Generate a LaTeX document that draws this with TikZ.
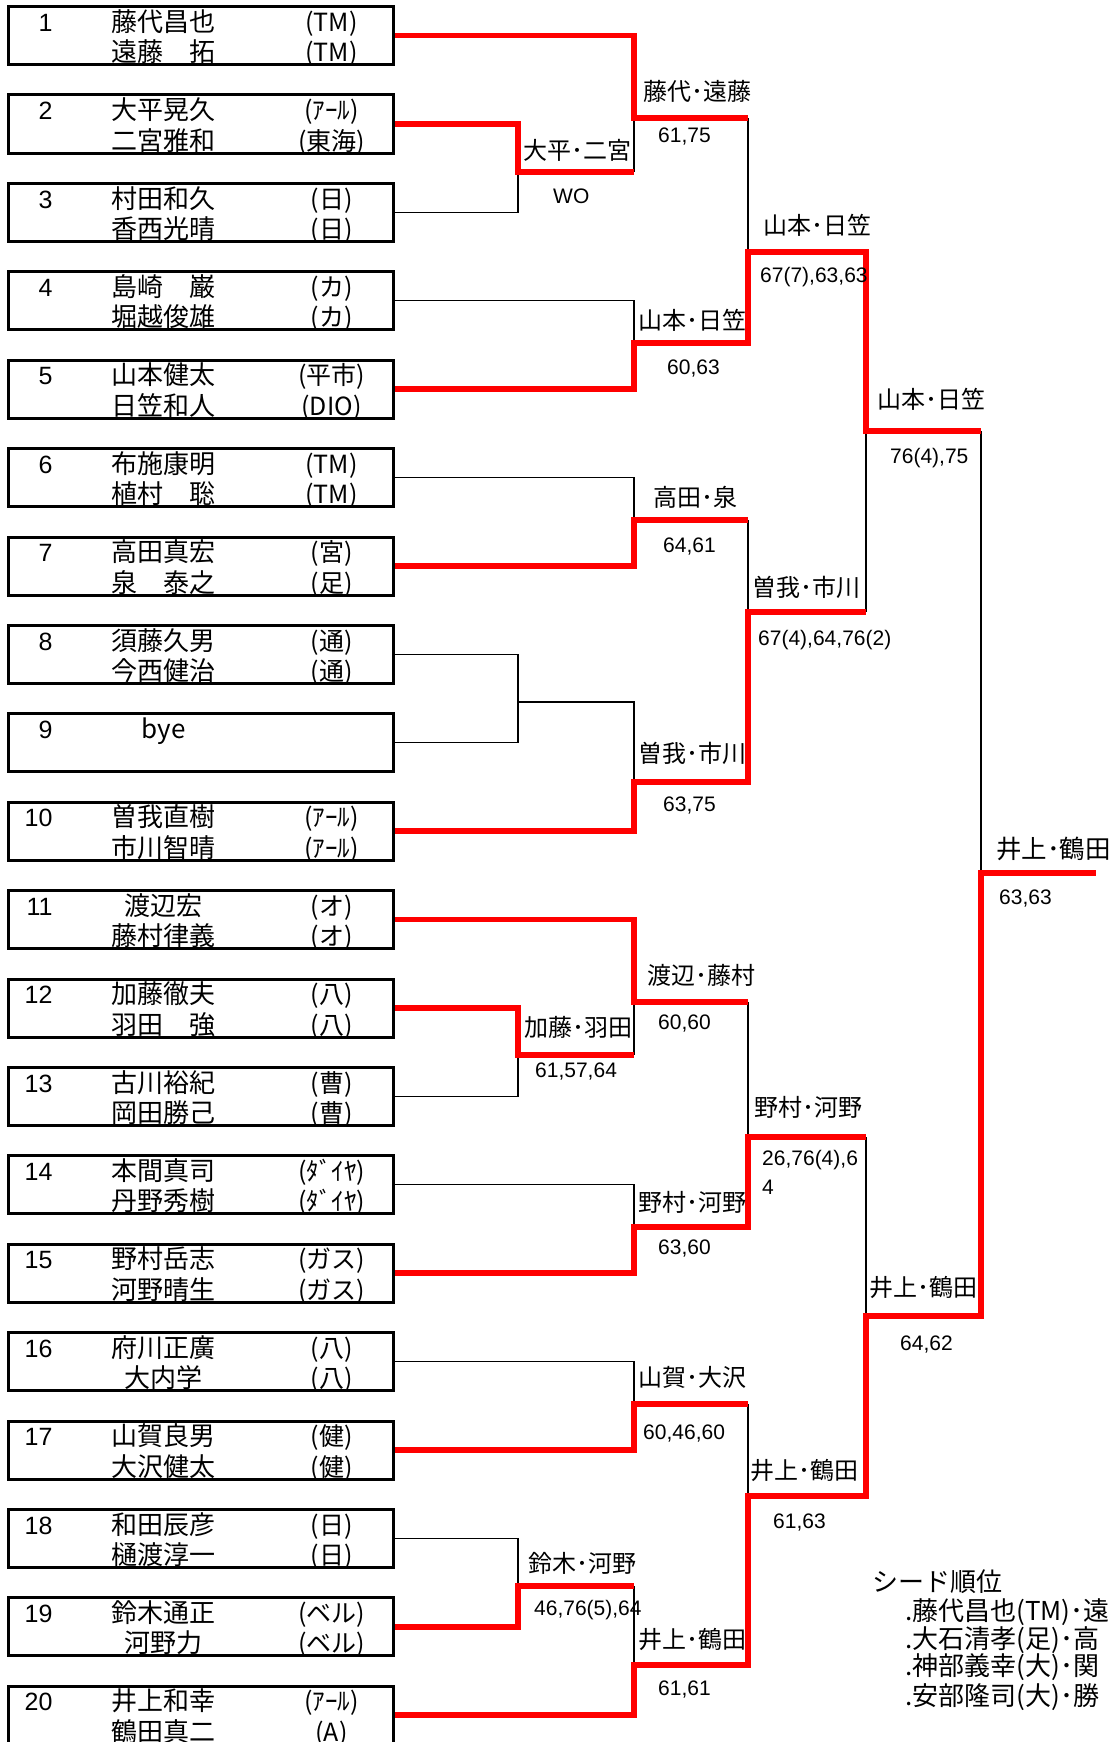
\documentclass[tikz,border=0pt]{standalone}
\usepackage{fontspec}
\usepackage{array}
\setmainfont{Liberation Sans}
\newfontfamily\jp{Noto Sans CJK JP}

% number, two names, two teams of one pair
\newcommand{\entry}[5]{%
  \begin{tabular}[t]{@{}>{\raggedleft\arraybackslash}p{39pt}@{}>{\centering\arraybackslash}p{222pt}@{}>{\centering\arraybackslash}p{114pt}@{}}
    {\fontsize{25}{29}\selectfont #1} & {\jp #2} & {\jp\fontsize{25}{29}\selectfont #4}\\
    & {\jp #3} & {\jp\fontsize{25}{29}\selectfont #5}
  \end{tabular}}

\begin{document}
\begin{tikzpicture}
[x=1pt,y=-1pt,
 entry/.style={draw,line width=3pt,minimum width=385pt,minimum height=58pt,
   inner sep=0pt,text height=24.6pt,text depth=33.4pt,font=\fontsize{26}{29}\selectfont},
 pairname/.style={anchor=west,inner sep=0pt,font=\jp\fontsize{24}{29}\selectfont},
 seedline/.style={anchor=west,inner sep=0pt,font=\jp\fontsize{26}{29}\selectfont},
 score/.style={anchor=west,inner sep=0pt,font=\fontsize{21}{29}\selectfont},
 won/.style={draw=red,line width=5.5pt},
 lost/.style={draw=black,line width=1.2pt}]
   \useasboundingbox (0,0) rectangle (1113,1742);

   % the pairs
   \node[entry] (p_1)  at (201,35.6)   {\entry{1}{藤代昌也}{遠藤　拓}{(TM)}{(TM)}};
   \node[entry] (p_2)  at (201,124.0)  {\entry{2}{大平晃久}{二宮雅和}{(ｱｰﾙ)}{(東海)}};
   \node[entry] (p_3)  at (201,212.4)  {\entry{3}{村田和久}{香西光晴}{(日)}{(日)}};
   \node[entry] (p_4)  at (201,300.8)  {\entry{4}{島崎　巌}{堀越俊雄}{(カ)}{(カ)}};
   \node[entry] (p_5)  at (201,389.2)  {\entry{5}{山本健太}{日笠和人}{(平市)}{(DIO)}};
   \node[entry] (p_6)  at (201,477.6)  {\entry{6}{布施康明}{植村　聡}{(TM)}{(TM)}};
   \node[entry] (p_7)  at (201,566.0)  {\entry{7}{高田真宏}{泉　泰之}{(宮)}{(足)}};
   \node[entry] (p_8)  at (201,654.4)  {\entry{8}{須藤久男}{今西健治}{(通)}{(通)}};
   \node[entry] (p_9)  at (201,742.8)  {\entry{9}{bye}{}{}{}};
   \node[entry] (p_10) at (201,831.2)  {\entry{10}{曽我直樹}{市川智晴}{(ｱｰﾙ)}{(ｱｰﾙ)}};
   \node[entry] (p_11) at (201,919.6)  {\entry{11}{渡辺宏}{藤村律義}{(オ)}{(オ)}};
   \node[entry] (p_12) at (201,1008.0) {\entry{12}{加藤徹夫}{羽田　強}{(八)}{(八)}};
   \node[entry] (p_13) at (201,1096.4) {\entry{13}{古川裕紀}{岡田勝己}{(曹)}{(曹)}};
   \node[entry] (p_14) at (201,1184.8) {\entry{14}{本間真司}{丹野秀樹}{(ﾀﾞｲﾔ)}{(ﾀﾞｲﾔ)}};
   \node[entry] (p_15) at (201,1273.2) {\entry{15}{野村岳志}{河野晴生}{(ガス)}{(ガス)}};
   \node[entry] (p_16) at (201,1361.6) {\entry{16}{府川正廣}{大内学}{(八)}{(八)}};
   \node[entry] (p_17) at (201,1450.0) {\entry{17}{山賀良男}{大沢健太}{(健)}{(健)}};
   \node[entry] (p_18) at (201,1538.4) {\entry{18}{和田辰彦}{樋渡淳一}{(日)}{(日)}};
   \node[entry] (p_19) at (201,1626.8) {\entry{19}{鈴木通正}{河野力}{(ベル)}{(ベル)}};
   \node[entry] (p_20) at (201,1715.2) {\entry{20}{井上和幸}{鶴田真二}{(ｱｰﾙ)}{(A)}};

   % match points, one column per round
   \coordinate (r1_1) at (518,172);
   \coordinate (r1_2) at (518,702);
   \coordinate (r1_3) at (518,1055);
   \coordinate (r1_4) at (518,1586);
   \coordinate (r2_1) at (634,118);
   \coordinate (r2_2) at (634,343);
   \coordinate (r2_3) at (634,520);
   \coordinate (r2_4) at (634,782);
   \coordinate (r2_5) at (634,1002);
   \coordinate (r2_6) at (634,1227);
   \coordinate (r2_7) at (634,1404);
   \coordinate (r2_8) at (634,1665);
   \coordinate (r3_1) at (748,252);
   \coordinate (r3_2) at (748,612);
   \coordinate (r3_3) at (748,1137);
   \coordinate (r3_4) at (748,1496);
   \coordinate (r4_1) at (866,431);
   \coordinate (r4_2) at (866,1316);
   \coordinate (r5_1) at (981,873);
   \coordinate (c_0)  at (1096,873);

   % losing sides
   \path[lost]
    (p_3.east) -| (r1_1)
    (p_8.east) -| (r1_2)
    (p_9.east) -| (r1_2)
    (p_13.east) -| (r1_3)
    (p_18.east) -| (r1_4)
    (p_4.east) -| (r2_2)
    (p_6.east) -| (r2_3)
    (p_14.east) -| (r2_6)
    (p_16.east) -| (r2_7)
    (r1_2) -| (r2_4)
    (r1_1 -| r2_1) -- (r2_1)
    (r1_3 -| r2_5) -- (r2_5)
    (r1_4 -| r2_8) -- (r2_8)
    (r2_1 -| r3_1) -- (r3_1)
    (r2_3 -| r3_2) -- (r3_2)
    (r2_5 -| r3_3) -- (r3_3)
    (r2_7 -| r3_4) -- (r3_4)
    (r3_2 -| r4_1) -- (r4_1)
    (r3_3 -| r4_2) -- (r4_2)
    (r4_1 -| r5_1) -- (r5_1);

   % winning sides
   \draw[won] (p_1.east) -| (r2_1) -- (r2_1 -| r3_1);
   \draw[won] (p_2.east) -| (r1_1) -- (r1_1 -| r2_1);
   \draw[won] (p_5.east) -| (r2_2) -| (r3_1) -| (r4_1) -- (r4_1 -| r5_1);
   \draw[won] (p_7.east) -| (r2_3) -- (r2_3 -| r3_2);
   \draw[won] (p_10.east) -| (r2_4) -| (r3_2) -- (r3_2 -| r4_1);
   \draw[won] (p_11.east) -| (r2_5) -- (r2_5 -| r3_3);
   \draw[won] (p_12.east) -| (r1_3) -- (r1_3 -| r2_5);
   \draw[won] (p_15.east) -| (r2_6) -| (r3_3) -- (r3_3 -| r4_2);
   \draw[won] (p_17.east) -| (r2_7) -- (r2_7 -| r3_4);
   \draw[won] (p_19.east) -| (r1_4) -- (r1_4 -| r2_8);
   \draw[won] (p_20.east) -| (r2_8) -| (r3_4) -| (r4_2) -| (r5_1) -- (c_0);

   % winners and scores
   \node[pairname] (w1_1) at (523,150)  {大平･二宮};
   \node[score]    (s1_1) at (553,196)  {WO};
   \node[pairname] (w1_3) at (524,1027) {加藤･羽田};
   \node[score]    (s1_3) at (535,1071) {61,57,64};
   \node[pairname] (w1_4) at (528,1563) {鈴木･河野};
   \node[score]    (s1_4) at (534,1610) {46,76(5),64};
   \node[pairname] (w2_1) at (643,91)   {藤代･遠藤};
   \node[score]    (s2_1) at (658,137)  {61,75};
   \node[pairname] (w2_2) at (638,320)  {山本･日笠};
   \node[score]    (s2_2) at (667,369)  {60,63};
   \node[pairname] (w2_3) at (653,497)  {高田･泉};
   \node[score]    (s2_3) at (663,547)  {64,61};
   \node[pairname] (w2_4) at (638,753)  {曽我･市川};
   \node[score]    (s2_4) at (663,806)  {63,75};
   \node[pairname] (w2_5) at (647,975)  {渡辺･藤村};
   \node[score]    (s2_5) at (658,1023) {60,60};
   \node[pairname] (w2_6) at (638,1202) {野村･河野};
   \node[score]    (s2_6) at (658,1248) {63,60};
   \node[pairname] (w2_7) at (638,1377) {山賀･大沢};
   \node[score]    (s2_7) at (643,1433) {60,46,60};
   \node[pairname] (w2_8) at (638,1639) {井上･鶴田};
   \node[score]    (s2_8) at (658,1689) {61,61};
   \node[pairname] (w3_1) at (763,225)  {山本･日笠};
   \node[score]    (s3_1) at (760,277)  {67(7),63,63};
   \node[pairname] (w3_2) at (752,587)  {曽我･市川};
   \node[score]    (s3_2) at (758,640)  {67(4),64,76(2)};
   \node[pairname] (w3_3) at (754,1107) {野村･河野};
   \node[score,anchor=north west,align=left] (s3_3) at (762,1150) {26,76(4),6\\4};
   \node[pairname] (w3_4) at (750,1470) {井上･鶴田};
   \node[score]    (s3_4) at (773,1522) {61,63};
   \node[pairname] (w4_1) at (877,399)  {山本･日笠};
   \node[score]    (s4_1) at (890,458)  {76(4),75};
   \node[pairname] (w4_2) at (869,1287) {井上･鶴田};
   \node[score]    (s4_2) at (900,1344) {64,62};
   \node[pairname,font=\jp\fontsize{25.5}{29}\selectfont] (w5_1) at (996,849) {井上･鶴田};
   \node[score]    (s5_1) at (999,899)  {63,63};

   % seeds
   \node[seedline] (seed_0) at (872,1582) {シード順位};
   \node[seedline] (seed_1) at (905,1612) {.藤代昌也(TM)･遠};
   \node[seedline] (seed_2) at (905,1640) {.大石清孝(足)･高};
   \node[seedline] (seed_3) at (905,1667) {.神部義幸(大)･関};
   \node[seedline] (seed_4) at (905,1697) {.安部隆司(大)･勝};

\end{tikzpicture}
\end{document}
